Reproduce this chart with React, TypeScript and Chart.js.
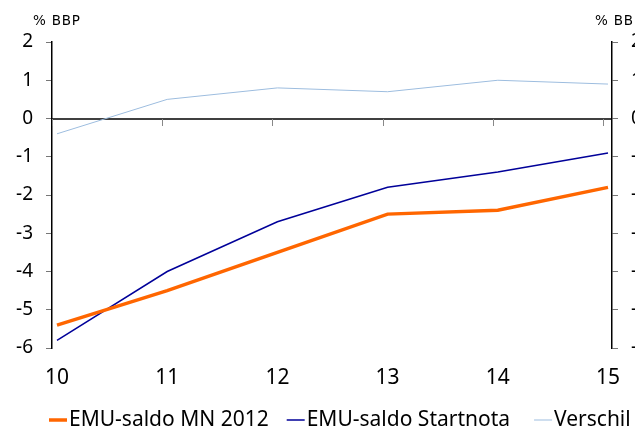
import { useEffect, useRef } from 'react';
import { Chart, registerables } from 'chart.js';

Chart.register(...registerables);

const years = [10, 11, 12, 13, 14, 15];
const emuSaldoMN2012 = [-5.4, -4.5, -3.5, -2.5, -2.4, -1.8];
const emuSaldoStartnota = [-5.8, -4.0, -2.7, -1.8, -1.4, -0.9];
const verschil = [-0.4, 0.5, 0.8, 0.7, 1.0, 0.9];
const yTickValues = [2, 1, 0, -1, -2, -3, -4, -5, -6];
const seriesLabels = ['EMU-saldo MN 2012', 'EMU-saldo Startnota', 'Verschil'];
const seriesColors = ['#FF6600', '#000099', '#9DBDDF'];
const seriesWidths = [3.5, 1.5, 1];
const legendGaps = [18, 24, 18];
const unitLabel = '% BBP';

const toPoints = (vals: number[]) => vals.map((v, i) => ({ x: years[i], y: v }));

const decorPlugin = {
  id: 'decor',
  beforeDatasetsDraw(chart: any) {
    const { ctx, chartArea, scales } = chart;
    const xs = scales.x;
    const ys = scales.y;
    const y0 = Math.round(ys.getPixelForValue(0));
    ctx.save();
    ctx.strokeStyle = '#000';
    ctx.lineWidth = 1.5;
    ctx.beginPath();
    ctx.moveTo(chartArea.left, y0);
    ctx.lineTo(chartArea.right, y0);
    ctx.stroke();
    ctx.strokeStyle = '#888';
    ctx.lineWidth = 1;
    years.forEach((v) => {
      const px = Math.round(xs.getPixelForValue(v) - 5) + 0.5;
      ctx.beginPath();
      ctx.moveTo(px, y0);
      ctx.lineTo(px, y0 + 7);
      ctx.stroke();
    });
    ctx.restore();
  },
  afterDraw(chart: any) {
    const { ctx, chartArea } = chart;
    ctx.save();
    // unit labels
    ctx.fillStyle = '#000';
    ctx.font = '13.5px "DejaVu Sans"';
    (ctx as any).letterSpacing = '0.8px';
    ctx.textBaseline = 'middle';
    ctx.textAlign = 'left';
    ctx.fillText(unitLabel, chartArea.left - 19, 13);
    ctx.fillText(unitLabel, chartArea.right - 17, 13);
    (ctx as any).letterSpacing = '0px';
    // legend
    ctx.font = '21px "Noto Sans"';
    const ly = 412;
    let cx = 41;
    chart.data.datasets.forEach((ds: any, i: number) => {
      ctx.strokeStyle = ds.borderColor;
      ctx.lineWidth = ds.borderWidth;
      ctx.beginPath();
      ctx.moveTo(cx, ly);
      ctx.lineTo(cx + 18, ly);
      ctx.stroke();
      ctx.fillStyle = '#000';
      ctx.fillText(ds.label, cx + 20, ly);
      cx += 20 + ctx.measureText(ds.label).width + legendGaps[i];
    });
    ctx.restore();
  },
};

export default function App() {
  const ref = useRef<HTMLCanvasElement | null>(null);

  useEffect(() => {
    if (!ref.current) return;
    const setTicks = (scale: any) => {
      scale.ticks = yTickValues.map((v) => ({ value: v }));
    };
    const yCommon = (position: 'left' | 'right', width: number) => ({
      type: 'linear' as const,
      position,
      min: -6,
      max: 2,
      afterBuildTicks: setTicks,
      afterFit: (s: any) => {
        s.width = width;
      },
      border: { display: true, color: '#000', width: 1.5 },
      grid: {
        drawOnChartArea: false,
        drawTicks: true,
        tickLength: 6,
        tickColor: '#777',
      },
      ticks: {
        color: '#000',
        padding: 13,
        font: { family: 'Noto Sans', size: 19 },
      },
    });
    const chart = new Chart(ref.current, {
      type: 'line',
      data: {
        datasets: [
          {
            label: seriesLabels[0],
            data: toPoints(emuSaldoMN2012),
            borderColor: seriesColors[0],
            borderWidth: seriesWidths[0],
            pointRadius: 0,
            tension: 0,
            yAxisID: 'y',
          },
          {
            label: seriesLabels[1],
            data: toPoints(emuSaldoStartnota),
            borderColor: seriesColors[1],
            borderWidth: seriesWidths[1],
            pointRadius: 0,
            tension: 0,
            yAxisID: 'y',
          },
          {
            label: seriesLabels[2],
            data: toPoints(verschil),
            borderColor: seriesColors[2],
            borderWidth: seriesWidths[2],
            pointRadius: 0,
            tension: 0,
            yAxisID: 'y',
          },
        ],
      },
      options: {
        animation: false,
        responsive: false,
        layout: { padding: { top: 34, left: 0, right: 0, bottom: 0 } },
        plugins: { legend: { display: false }, tooltip: { enabled: false } },
        scales: {
          x: {
            type: 'linear',
            min: 9.9546,
            max: 15.0363,
            afterBuildTicks: (scale: any) => {
              scale.ticks = years.map((v) => ({ value: v }));
            },
            afterFit: (s: any) => {
              s.height = 82;
            },
            border: { display: false },
            grid: { display: false, drawTicks: false },
            ticks: {
              color: '#000',
              padding: 17,
              maxRotation: 0,
              autoSkip: false,
              font: { family: 'Noto Sans', size: 21 },
              callback: (v: any) => String(v),
            },
          },
          y: yCommon('left', 44),
          y2: yCommon('right', 76),
        },
      },
      plugins: [decorPlugin],
    });
    return () => chart.destroy();
  }, []);

  return (
    <div
      style={{
        position: 'fixed',
        left: 8,
        top: 8,
        width: 627,
        height: 422,
        overflow: 'hidden',
        background: '#fff',
      }}
    >
      <canvas ref={ref} width={680} height={422} style={{ width: 680, height: 422, display: 'block' }} />
    </div>
  );
}
